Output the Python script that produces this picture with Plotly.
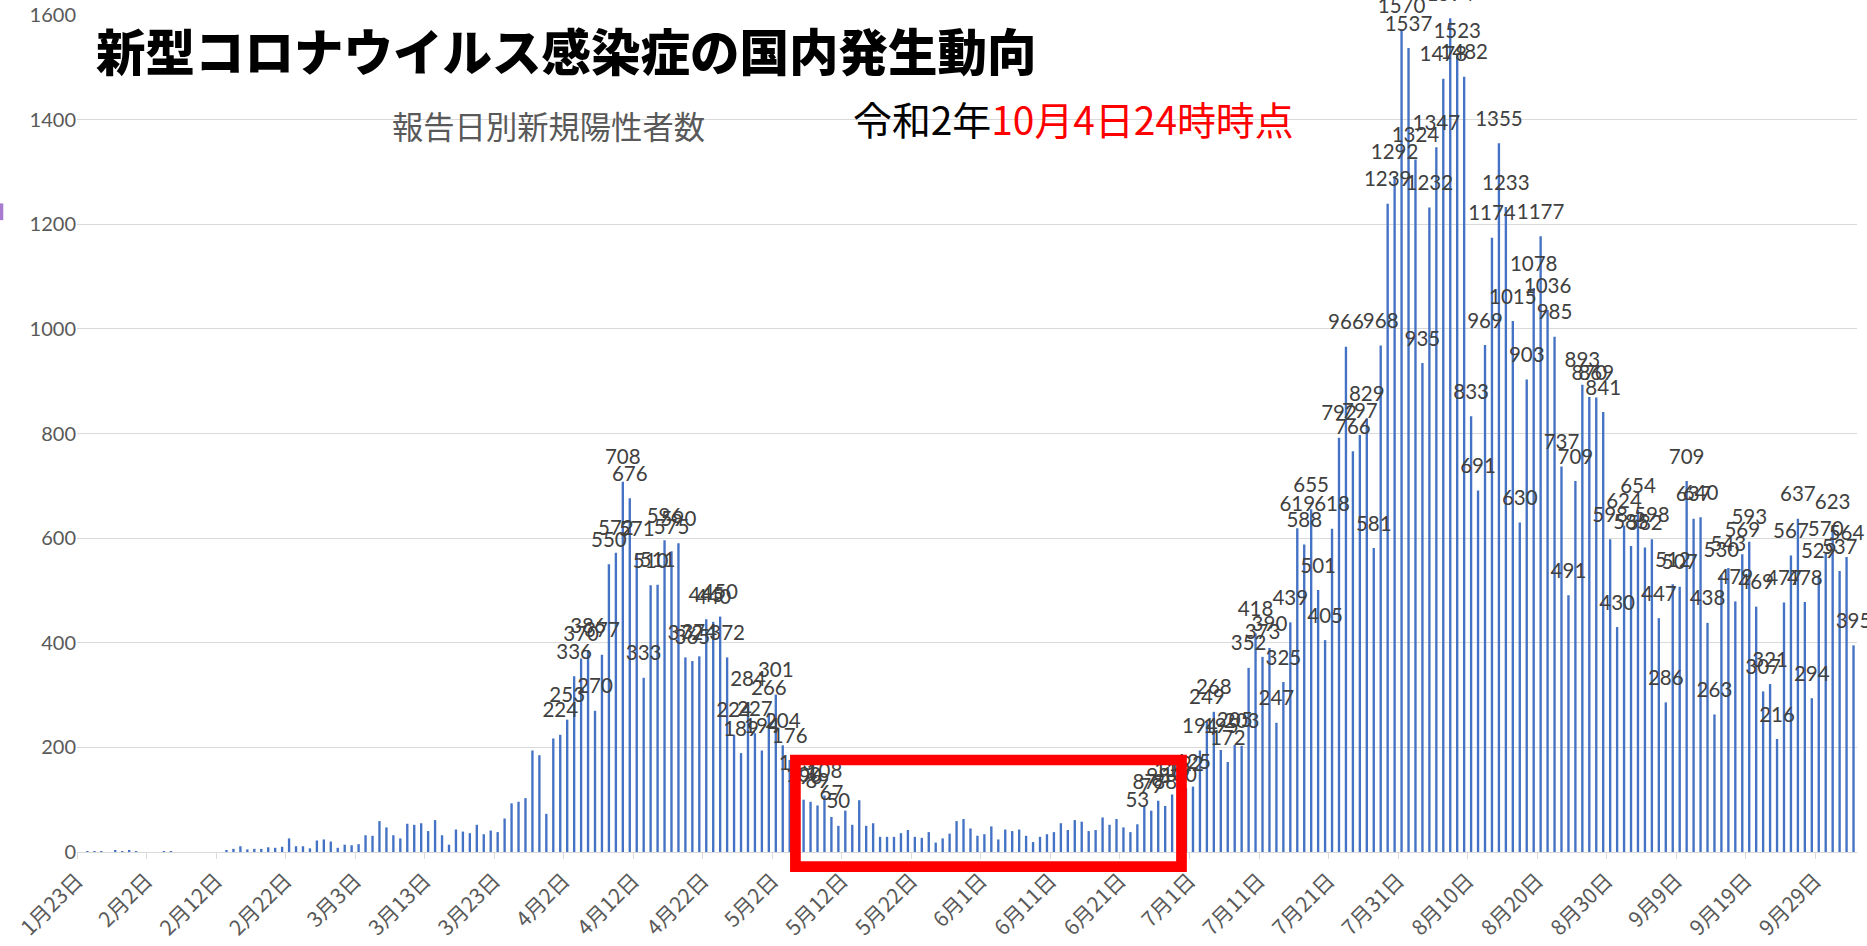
import pandas as pd
import plotly.graph_objects as go

# ---- data: 報告日別新規陽性者数 (daily new positives by report date) ----
start_date = "2020-01-23"
jan = [0, 1, 1, 1, 0, 3, 1, 2, 1]
feb = [0, 0, 0, 1, 1, 0, 0, 0, 0, 0, 0, 0, 3, 6, 11, 5, 6, 6, 9, 8, 10, 26, 11, 11, 7, 22, 24, 20, 8]
mar = [14, 13, 15, 32, 31, 59, 47, 32, 26, 54, 52, 55, 40, 61, 32, 14, 43, 39, 36, 52, 34, 41, 38,
       64, 93, 96, 103, 194, 185, 73, 217]
apr = [224, 253, 336, 370, 386, 270, 377, 550, 572, 708, 676, 571, 333, 510, 511, 596, 575, 590, 372,
       365, 374, 445, 440, 450, 372, 224, 189, 284, 227, 194]
may = [266, 301, 204, 176, 123, 100, 96, 89, 108, 67, 50, 79, 52, 99, 50, 55, 29, 29, 29, 36, 42, 29,
       27, 38, 18, 26, 35, 59, 63, 45, 31]
jun = [34, 49, 24, 43, 40, 43, 31, 19, 29, 34, 38, 55, 42, 61, 58, 40, 42, 66, 52, 63, 47, 38, 53, 87,
       79, 98, 88, 110, 100, 122]
jul = [125, 194, 249, 268, 195, 172, 205, 203, 352, 418, 373, 390, 247, 325, 439, 619, 588, 655, 501,
       405, 618, 792, 966, 766, 797, 829, 581, 968, 1239, 1292, 1570]
aug = [1537, 1324, 935, 1232, 1347, 1478, 1594, 1523, 1482, 833, 691, 969, 1174, 1355, 1233, 1015, 630,
       903, 1078, 1177, 1036, 985, 737, 491, 709, 893, 870, 869, 841, 598, 430]
sep = [624, 585, 654, 582, 598, 447, 286, 512, 507, 709, 637, 640, 438, 263, 530, 543, 479, 569, 593,
       469, 307, 321, 216, 477, 567, 637, 478, 294, 529, 570]
oct_ = [623, 537, 564, 395]

# periods whose bars carry a data label
label_periods = [("2020-04-01", "2020-05-11"), ("2020-06-23", "2020-10-04")]

title_text = "新型コロナウイルス感染症の国内発生動向"
subtitle_text = "報告日別新規陽性者数"
date_black = "令和2年"
date_red = "10月4日24時時点"

# ---- build ----
values = jan + feb + mar + apr + may + jun + jul + aug + sep + oct_
dates = pd.date_range(start_date, periods=len(values), freq="D")
end_date = dates[-1] + pd.Timedelta(days=1)
labels = []
for d, v in zip(dates, values):
    shown = any(pd.Timestamp(a) <= d <= pd.Timestamp(b) for a, b in label_periods)
    labels.append(str(v) if shown else "")

DAY = 86400000

fig = go.Figure()
fig.add_trace(go.Bar(
    x=dates, y=values,
    xperiod=DAY, xperiodalignment="middle",
    width=0.34 * DAY,
    marker=dict(color="#4472C4", line=dict(width=0)),
    hovertemplate="%{x|%-m月%-d日}: %{y}<extra></extra>",
))
fig.add_trace(go.Scatter(
    x=dates, y=values,
    xperiod=DAY, xperiodalignment="middle",
    mode="markers+text",
    text=labels,
    textposition="top center",
    marker=dict(size=18, opacity=0),
    textfont=dict(family="Lato", size=20.5, color="#404040"),
    cliponaxis=False,
    hoverinfo="skip",
))

fig.update_layout(
    width=1867, height=946,
    margin=dict(l=77, r=10.3, t=14.9, b=94.3, autoexpand=False),
    plot_bgcolor="white", paper_bgcolor="white",
    showlegend=False,
)
fig.update_xaxes(
    type="date",
    range=[dates[0], end_date],
    tick0=start_date, dtick=10 * DAY,
    tickformat="%-m月%-d日", tickangle=-45,
    ticks="outside", ticklen=6, tickcolor="#D9D9D9", tickwidth=1.3,
    showline=True, linecolor="#D9D9D9", linewidth=1.3,
    showgrid=False, zeroline=False,
    tickfont=dict(family="Noto Sans CJK JP", size=21, color="#595959"),
    ticklabelstandoff=1,
    automargin=False,
)
fig.update_yaxes(
    range=[0, 1600], dtick=200,
    showgrid=True, gridcolor="#D9D9D9", gridwidth=1.3,
    zeroline=False, showline=False, ticks="",
    tickfont=dict(family="Lato", size=20, color="#595959"),
    ticklabelstandoff=0,
    automargin=False,
)

fig.add_annotation(
    xref="paper", yref="paper", x=0.00933, y=0.9585, xanchor="left", yanchor="middle",
    text=title_text, showarrow=False,
    font=dict(family="Noto Sans CJK JP", size=49.5, color="#000000", weight=900),
)
fig.add_annotation(
    xref="paper", yref="paper", x=0.2647, y=0.8684, xanchor="center", yanchor="middle",
    text=subtitle_text, showarrow=False,
    font=dict(family="Noto Sans CJK JP", size=31.3, color="#595959"),
)
fig.add_annotation(
    xref="paper", yref="paper", x=0.4349, y=0.8774, xanchor="left", yanchor="middle",
    text=date_black + "<span style='color:#FF0000'>" + date_red + "</span>", showarrow=False,
    font=dict(family="Noto Sans CJK JP", size=38.9, color="#000000"),
)
# red highlight box
fig.add_shape(
    type="rect", xref="paper", yref="paper",
    x0=0.4036, x1=0.6205, y0=-0.01745, y1=0.1099,
    line=dict(color="#FF0000", width=10.7), fillcolor="rgba(0,0,0,0)", layer="above",
)
# small purple mark at left edge
fig.add_shape(
    type="rect", xref="paper", yref="paper",
    x0=-0.04327, x1=-0.04141, y0=0.7549, y1=0.7749,
    line=dict(width=0), fillcolor="#A87BD1", layer="above",
)

fig.write_html("out.html", config={"displayModeBar": False},
               post_script="document.body.style.margin='0';")
